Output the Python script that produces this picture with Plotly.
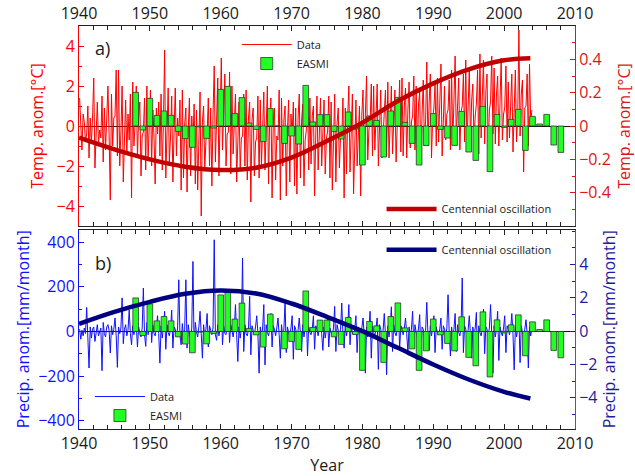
import plotly.graph_objects as go

# ---------------- data ----------------
start_year = 1940
per_year = 6  # sub-annual samples per year

# panel a) temperature anomaly data [degC], 6 values per year 1940-2003
temp_data = [
    1.4, -0.3, -1.2, 0.6, 0.2, -0.8,     # 1940
    -0.4, 1.0, -1.6, 0.4, -0.9, 0.5,
    2.4, -2.1, 0.3, 1.2, -0.9, -0.2,
    -0.6, 1.5, -1.8, 0.9, -1.2, 0.3,
    2.0, -0.5, -3.7, 1.6, -1.0, 0.4,
    0.5, 2.8, -1.5, 2.8, -2.0, -0.3,     # 1945
    2.0, -2.8, 0.2, 1.3, -1.4, 0.6,
    -0.7, 1.6, -3.6, 2.2, -1.0, 0.1,
    2.0, -1.6, 0.4, 1.2, -2.5, -0.5,
    -0.3, 1.4, -2.2, 2.0, -1.7, 0.6,
    1.8, -2.0, 0.8, -0.5, -2.9, 0.9,     # 1950
    -0.4, 1.2, -1.5, 1.6, -2.2, 0.2,
    3.8, -2.6, 0.5, 1.9, -1.8, -0.6,
    1.5, -2.8, -0.3, 1.9, -1.5, 0.4,
    -0.5, 1.3, -3.2, 1.8, -2.6, 0.1,
    0.9, -3.3, -0.2, 1.4, -2.5, 0.5,     # 1955
    -0.8, 1.1, -2.9, 0.8, -3.2, 0.3,
    1.7, -4.5, 0.2, 1.0, -2.2, -0.7,
    -0.4, 1.4, -2.0, 0.9, -3.0, 0.6,
    3.0, -1.8, 0.5, 2.4, -2.5, -0.2,
    3.4, -1.2, 0.9, 2.6, -2.0, -0.4,     # 1960
    -0.3, 2.7, -2.4, 2.0, -1.4, 0.8,
    1.6, -2.8, 0.1, 1.2, -2.2, -0.6,
    -0.5, 1.6, -2.0, 1.8, -2.7, 0.4,
    1.2, -3.8, 0.3, 0.9, -2.5, -0.8,
    -0.6, 1.5, -2.6, 1.3, -2.0, 0.2,     # 1965
    1.7, -2.2, -0.4, 2.0, -2.9, 0.5,
    1.4, -3.6, 0.2, 0.9, -2.7, -0.5,
    -0.7, 1.8, -3.7, 1.4, -2.0, 0.3,
    1.0, -3.5, -0.2, 1.3, -2.8, 0.6,
    -0.4, 1.2, -3.0, 0.9, -3.4, 0.4,     # 1970
    1.6, -2.6, 0.3, 1.1, -3.0, -0.7,
    -0.2, 1.8, -2.2, 1.4, -1.9, 0.5,
    1.0, -3.5, -0.4, 1.5, -2.2, 0.2,
    1.4, -2.0, 0.4, 1.3, -2.4, -0.6,
    -0.3, 1.5, -2.6, 1.2, -3.2, 0.3,     # 1975
    1.6, -2.8, 0.1, 0.9, -2.1, -0.5,
    -0.6, 1.4, -3.6, 0.9, -2.4, 0.4,
    2.0, -2.3, 0.3, 1.6, -3.4, -0.4,
    1.3, -2.0, -0.5, 1.0, -3.5, 0.6,
    1.8, -1.8, 0.6, 2.5, -1.7, -0.2,     # 1980
    0.2, 2.1, -1.5, 2.0, -1.2, 0.8,
    2.1, -2.0, 0.5, 1.8, -1.6, -0.3,
    0.4, 1.8, -1.5, 2.2, -1.6, 0.9,
    2.0, -1.4, 0.7, 1.8, -1.8, 0.1,
    0.3, 2.3, -1.3, 2.4, -1.5, 1.0,      # 1985
    1.9, -1.6, 0.8, 2.2, -1.1, 0.2,
    0.5, 2.5, -1.2, 2.0, -1.4, 1.1,
    1.7, -1.9, 0.6, 2.3, -1.0, 0.3,
    3.2, -1.0, 1.2, 2.6, -1.6, 0.4,
    0.9, 2.1, -1.0, 2.4, -0.8, 1.5,      # 1990
    3.1, -1.5, 1.0, 2.0, -0.7, 0.6,
    0.8, 2.3, -1.2, 2.8, -0.9, 1.6,
    3.5, -0.6, 1.4, 2.4, -1.2, 0.7,
    1.0, 2.6, -0.8, 3.3, -1.0, 1.8,
    2.9, -0.9, 1.3, 2.1, -0.8, 0.5,      # 1995
    1.1, 2.8, -1.4, 3.6, -0.6, 1.5,
    3.3, -0.9, 1.7, 2.6, -1.1, 0.8,
    1.2, 3.5, -0.4, 2.9, -0.9, 1.6,
    2.5, -1.0, 1.4, 3.4, -0.7, 0.6,
    0.9, 3.0, -0.8, 2.2, -0.6, 1.7,      # 2000
    2.6, -1.3, 1.2, 2.8, -0.8, 0.5,
    4.8, -0.5, 1.6, 2.3, -2.3, 0.9,
    1.0, 2.6, -1.0, 3.1, 0.2, 0.8,
]

# panel b) precipitation anomaly data [mm/month], 6 values per year 1940-2003
precip_data = [
    10, -35, 5, -20, 15, -10,        # 1940
    107, -20, -164, 20, -30, 10,
    20, -45, 10, 30, -20, 5,
    15, -176, 40, -10, -25, 20,
    30, 5, -97, 25, -15, 10,
    60, -20, -161, 20, -10, 15,      # 1945
    150, -55, 10, 30, -20, 5,
    95, -10, -60, 25, -15, 20,
    30, -70, 20, -5, -25, 15,
    194, -15, -67, 40, -15, 10,
    120, -50, 30, -10, -20, 15,      # 1950
    70, -10, -142, 25, -30, 20,
    90, -80, 30, -5, -20, 10,
    95, -75, 20, 10, -25, 15,
    231, -20, -60, 35, -20, 10,
    231, -75, 30, -10, -30, 15,      # 1955
    313, -85, 40, -5, -25, 20,
    90, -10, -120, 30, -20, 10,
    80, -70, 25, 5, -15, 15,
    410, -15, -40, 30, -20, 10,
    130, -60, 25, -10, -15, 20,      # 1960
    85, -50, 30, 5, -25, 10,
    120, -15, -135, 20, -30, 15,
    328, -90, 30, -10, -20, 10,
    157, -105, 25, 5, -15, 20,
    70, -10, -187, 20, -25, 15,      # 1965
    120, -150, 30, -5, -20, 10,
    80, -70, 25, 10, -20, 15,
    60, -15, -120, 30, -25, 10,
    134, -95, 20, -5, -20, 15,
    70, -125, 25, 10, -20, 5,        # 1970
    60, -10, -90, 30, -25, 15,
    90, -110, 20, -5, -15, 10,
    70, -80, 25, 10, -20, 15,
    50, -10, -85, 20, -30, 10,
    60, -70, 15, -5, -20, 15,        # 1975
    112, -90, 30, 5, -20, 10,
    127, -15, -75, 25, -20, 15,
    120, -60, 25, -5, -15, 10,
    70, -95, 20, 10, -20, 15,
    60, -10, -187, 20, -25, 10,      # 1980
    90, -120, 25, -5, -20, 15,
    60, -170, 30, 10, -20, 5,
    80, -15, -194, 25, -25, 15,
    110, -90, 30, -5, -20, 10,
    104, -80, 25, 10, -15, 15,       # 1985
    60, -10, -95, 20, -20, 10,
    90, -70, 30, -5, -25, 15,
    75, -100, 20, 10, -20, 5,
    130, -15, -85, 25, -20, 15,
    70, -95, 20, -5, -15, 10,        # 1990
    60, -80, 25, 10, -20, 15,
    164, -10, -110, 20, -25, 10,
    80, -90, 30, -5, -20, 15,
    239, -95, 25, 10, -20, 5,
    70, -15, -120, 20, -25, 15,      # 1995
    85, -130, 25, -5, -20, 10,
    100, -100, 20, 10, -20, 15,
    120, -10, -187, 25, -25, 10,
    90, -130, 20, -5, -20, 15,
    70, -95, 25, 10, -15, 10,        # 2000
    80, -15, -172, 20, -25, 15,
    60, -140, 25, -5, -20, 10,
    52, -10, -164, 20, -20, 15,
]

# EASMI index (yearly), 1948-2008
easmi_years = list(range(1948, 2009))
easmi = [
    1.68, -0.20, 1.38, 0.53, 0.75, 0.53, -0.27, -0.63, -1.07, -0.04,   # 1948-1957
    -0.62, -0.10, 1.83, 1.98, 0.62, 1.42, 0.15, -0.17, -0.78, 0.87,    # 1958-1967
    0.00, -0.87, -0.50, -0.90, 2.03, 0.20, 0.57, 0.57, -0.27, -0.65,   # 1968-1977
    0.70, -0.15, -1.95, 0.50, 0.28, -1.55, 0.75, 1.43, 0.18, -0.87,    # 1978-1987
    -1.95, -0.97, 0.62, -0.17, -0.60, -0.97, 0.73, -1.30, -1.72, 0.98, # 1988-1997
    -2.28, 0.58, -0.07, 0.33, 0.83, -1.22, 0.48, 0.10, 0.58, -0.95,    # 1998-2007
    -1.32,                                                              # 2008
]

# Centennial oscillation curves
cent_years = [1940, 1945, 1950, 1955, 1960, 1965, 1970, 1975, 1980, 1985, 1990, 1995, 2000, 2003.7]
cent_temp = [-0.07, -0.14, -0.20, -0.244, -0.264, -0.25, -0.19, -0.09, 0.02, 0.15, 0.256, 0.34, 0.394, 0.406]
cent_precip = [0.44, 1.16, 1.76, 2.24, 2.44, 2.26, 1.66, 0.86, 0.0, -1.0, -2.0, -2.9, -3.64, -4.04]

x_ticks = list(range(1940, 2011, 10))

# sample times derived from the index of each value
t_temp = [start_year + (i + 0.5) / per_year for i in range(len(temp_data))]
t_prec = [start_year + (i + 0.5) / per_year for i in range(len(precip_data))]

# ---------------- styles ----------------
FONT = "Open Sans"
RED = "#ff0000"
DARKRED = "#c00000"
RED_R = "#d81818"
BLUE = "#1010ff"
NAVY = "#000080"
BLUE_R = "#1c1c9c"
GREEN = "#22ff22"
TXT = "#1a1a1a"

fig = go.Figure()

# Panel a
fig.add_trace(go.Scatter(x=t_temp, y=temp_data, mode="lines", name="Data",
                         line=dict(color=RED, width=1), xaxis="x", yaxis="y",
                         legend="legend"))
fig.add_trace(go.Bar(x=easmi_years, y=easmi, name="EASMI", width=0.8,
                     marker=dict(color=GREEN, line=dict(color="#333333", width=0.8)),
                     xaxis="x", yaxis="y2", legend="legend"))
fig.add_trace(go.Scatter(x=cent_years, y=cent_temp, mode="lines", name="Centennial oscillation",
                         line=dict(color=DARKRED, width=4.5, shape="spline"),
                         xaxis="x", yaxis="y3", legend="legend2"))

# Panel b
fig.add_trace(go.Scatter(x=t_prec, y=precip_data, mode="lines", name="Data",
                         line=dict(color=BLUE, width=1), xaxis="x2", yaxis="y4",
                         legend="legend4"))
fig.add_trace(go.Bar(x=easmi_years, y=easmi, name="EASMI", width=0.8,
                     marker=dict(color=GREEN, line=dict(color="#333333", width=0.8)),
                     xaxis="x2", yaxis="y5", legend="legend4"))
fig.add_trace(go.Scatter(x=cent_years, y=cent_precip, mode="lines", name="Centennial oscillation",
                         line=dict(color=NAVY, width=4.5, shape="spline"),
                         xaxis="x2", yaxis="y6", legend="legend3"))

tickfont = dict(family=FONT, size=16, color=TXT)
dom_a = [0.5037, 1.0]
dom_b = [0.0, 0.495]

xcommon = dict(range=[1940, 2010], tickvals=x_ticks, ticks="inside", ticklen=5,
               tickcolor="#222222", showline=True, linecolor="#222222", linewidth=1,
               mirror="ticks", showgrid=False, zeroline=False, tickfont=tickfont,
               automargin=False,
               minor=dict(dtick=2, tick0=1940, ticks="inside", ticklen=4, tickcolor="#222222"))

legfont = dict(family=FONT, size=11, color=TXT)

fig.update_layout(
    width=635, height=476,
    margin=dict(l=79, r=60, t=26, b=47, autoexpand=False),
    paper_bgcolor="white", plot_bgcolor="white",
    font=dict(family=FONT, color=TXT),
    barmode="overlay",
    xaxis=dict(anchor="y", side="top", domain=[0, 1], **xcommon),
    xaxis2=dict(anchor="y4", side="bottom", domain=[0, 1],
                title=dict(text="Year", font=dict(family=FONT, size=16, color=TXT), standoff=6),
                **xcommon),
    # panel a left (data)
    yaxis=dict(domain=dom_a, anchor="x", range=[-5, 5], tickvals=[-4, -2, 0, 2, 4],
               ticks="inside", ticklen=5, tickcolor=RED, showline=True, linecolor=RED,
               showgrid=False, zeroline=True, zerolinecolor="#111111", zerolinewidth=1,
               automargin=False,
               tickfont=dict(family=FONT, size=16, color=RED),
               minor=dict(dtick=1, tick0=0, ticks="inside", ticklen=3, tickcolor=RED),
               title=dict(text="Temp. anom.[°C]", font=dict(family=FONT, size=16, color=RED), standoff=8)),
    # panel a hidden (bars)
    yaxis2=dict(overlaying="y", anchor="x", range=[-5, 5], visible=False, showgrid=False,
                zeroline=False, automargin=False),
    # panel a right (centennial)
    yaxis3=dict(overlaying="y", anchor="x", side="right", range=[-0.6, 0.6],
                tickvals=[-0.4, -0.2, 0, 0.2, 0.4], ticktext=["−0.4", "−0.2", "0", "0.2", "0.4"],
                ticks="inside", ticklen=5, tickcolor=RED_R, showline=True, linecolor=RED_R,
                showgrid=False, zeroline=False, automargin=False,
                tickfont=dict(family=FONT, size=16, color=RED_R),
                minor=dict(dtick=0.1, tick0=0, ticks="inside", ticklen=3, tickcolor=RED_R),
                title=dict(text="Temp. anom.[°C]", font=dict(family=FONT, size=16, color=RED_R), standoff=10)),
    # panel b left (data)
    yaxis4=dict(domain=dom_b, anchor="x2", range=[-437, 456], tickvals=[-400, -200, 0, 200, 400],
                ticks="inside", ticklen=5, tickcolor=BLUE, showline=True, linecolor=BLUE,
                showgrid=False, zeroline=True, zerolinecolor="#111111", zerolinewidth=1,
                automargin=False,
                tickfont=dict(family=FONT, size=16, color=BLUE),
                minor=dict(dtick=100, tick0=0, ticks="inside", ticklen=3, tickcolor=BLUE),
                title=dict(text="Precip. anom.[mm/month]", font=dict(family=FONT, size=16, color=BLUE), standoff=4)),
    # panel b hidden (bars)
    yaxis5=dict(overlaying="y4", anchor="x2", range=[-4.89, 5.11], visible=False, showgrid=False,
                zeroline=False, automargin=False),
    # panel b right (centennial)
    yaxis6=dict(overlaying="y4", anchor="x2", side="right", range=[-5.87, 6.1],
                tickvals=[-4, -2, 0, 2, 4], ticktext=["−4", "−2", "0", "2", "4"],
                ticks="inside", ticklen=5, tickcolor=BLUE_R, showline=True, linecolor="#5050d0",
                showgrid=False, zeroline=False, automargin=False,
                tickfont=dict(family=FONT, size=16, color=BLUE_R),
                minor=dict(dtick=1, tick0=0, ticks="inside", ticklen=3, tickcolor=BLUE_R),
                title=dict(text="Precip. anom.[mm/month]", font=dict(family=FONT, size=16, color=BLUE_R), standoff=7)),
    legend=dict(x=0.318, y=0.99, xanchor="left", yanchor="top", bgcolor="rgba(0,0,0,0)",
                font=legfont, itemwidth=50),
    legend2=dict(x=0.61, y=0.546, xanchor="left", yanchor="middle", bgcolor="rgba(0,0,0,0)",
                 font=legfont, itemwidth=50),
    legend3=dict(x=0.61, y=0.445, xanchor="left", yanchor="middle", bgcolor="rgba(0,0,0,0)",
                 font=legfont, itemwidth=50),
    legend4=dict(x=0.022, y=0.057, xanchor="left", yanchor="middle", bgcolor="rgba(0,0,0,0)",
                 font=legfont, itemwidth=50),
    annotations=[
        dict(text="a)", xref="paper", yref="paper", x=0.028, y=0.945, xanchor="left",
             yanchor="middle", showarrow=False, font=dict(family=FONT, size=18, color=TXT)),
        dict(text="b)", xref="paper", yref="paper", x=0.028, y=0.412, xanchor="left",
             yanchor="middle", showarrow=False, font=dict(family=FONT, size=18, color=TXT)),
    ],
)

fig.write_html("out.html", config={"displayModeBar": False},
               post_script="document.body.style.margin='0px';")
